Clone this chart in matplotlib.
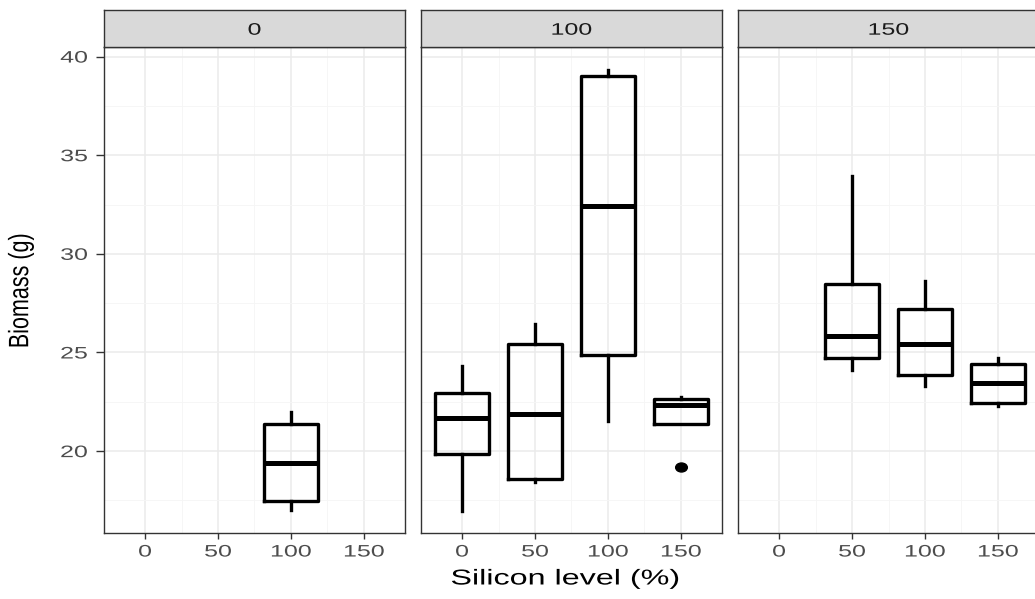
import matplotlib
matplotlib.use("Agg")
import matplotlib.pyplot as plt
from matplotlib.patheffects import AbstractPathEffect
from matplotlib.transforms import Affine2D
from matplotlib.path import Path
import numpy as np

# facet = silicon level of first factor, x = silicon level (%)
facets = ['0', '100', '150']
levels = [0, 50, 100, 150]

# per-facet box statistics (x position, whislo, q1, med, q3, whishi)
f0_x = [100]
f0_lo = [17.03]
f0_q1 = [17.48]
f0_med = [19.41]
f0_q3 = [21.35]
f0_hi = [21.99]

f1_x = [0, 50, 100, 150]
f1_lo = [16.98, 18.41, 21.53, 21.35]
f1_q1 = [19.83, 18.58, 24.85, 21.35]
f1_med = [21.67, 21.87, 32.42, 22.33]
f1_q3 = [22.95, 25.42, 39.00, 22.63]
f1_hi = [24.32, 26.43, 39.34, 22.72]

f2_x = [50, 100, 150]
f2_lo = [24.12, 23.28, 22.29]
f2_q1 = [24.72, 23.85, 22.42]
f2_med = [25.84, 25.42, 23.44]
f2_q3 = [28.46, 27.19, 24.44]
f2_hi = [33.94, 28.62, 24.70]

# outliers: (facet index, x, y)
out_facet = [1]
out_x = [150]
out_y = [19.22]

panels = [
    (f0_x, f0_lo, f0_q1, f0_med, f0_q3, f0_hi),
    (f1_x, f1_lo, f1_q1, f1_med, f1_q3, f1_hi),
    (f2_x, f2_lo, f2_q1, f2_med, f2_q3, f2_hi),
]


class Stretch(AbstractPathEffect):
    """widen text horizontally around an anchor (the reference is stretched)"""
    def __init__(self, sx=1.45, anchor='center'):
        super().__init__()
        self.sx = sx
        self.anchor = anchor

    def draw_path(self, renderer, gc, tpath, affine, rgbFace=None):
        ext = tpath.get_extents(affine)
        cx = ext.x1 if self.anchor == 'right' else (ext.x0 + ext.x1) / 2
        t = affine + Affine2D().translate(-cx, 0).scale(self.sx, 1).translate(cx, 0)
        renderer.draw_path(gc, tpath, t, rgbFace)


FONT = ['Liberation Sans', 'DejaVu Sans']
SX = 1.5

W, H = 1035, 599
fig = plt.figure(figsize=(W / 100, H / 100), dpi=100)

lefts = [104, 421, 738]
pw = 301
top_px, bot_px, strip_top = 46.7, 533, 10

tick_col = '#4D4D4D'
frame_col = '#333333'
grid_col = '#EBEBEB'

ell = Path(Path.unit_circle().vertices * [1.3, 1.0], Path.unit_circle().codes)

axes = []
for i, (xs, lo, q1, med, q3, hi) in enumerate(panels):
    l = lefts[i] / W
    ax = fig.add_axes([l, 1 - bot_px / H, pw / W, (bot_px - top_px) / H])
    axes.append(ax)
    stats = []
    for j in range(len(xs)):
        stats.append(dict(whislo=lo[j], q1=q1[j], med=med[j], q3=q3[j], whishi=hi[j], fliers=[]))
    ax.bxp(stats, positions=xs, widths=37.5, showcaps=False, manage_ticks=False,
           boxprops=dict(color='black', lw=2.4),
           whiskerprops=dict(color='black', lw=2.4),
           medianprops=dict(color='black', lw=3.6, solid_capstyle='butt'))
    for f, x, y in zip(out_facet, out_x, out_y):
        if f == i:
            ax.plot(x, y, marker=ell, ls='none', color='black', ms=8.4, zorder=3)

    ax.set_xlim(-28.1, 178.1)
    ax.set_ylim(15.85, 40.5)
    ax.set_xticks(levels)
    ax.set_xticks([25, 75, 125], minor=True)
    ax.set_yticks([20, 25, 30, 35, 40])
    ax.set_yticks([17.5, 22.5, 27.5, 32.5, 37.5], minor=True)
    ax.grid(True, which='major', color=grid_col, lw=1.1, zorder=0)
    ax.grid(True, which='minor', color='#F5F5F5', lw=0.6, zorder=0)
    ax.set_axisbelow(True)
    for s in ax.spines.values():
        s.set_color(frame_col)
        s.set_linewidth(1.0)
    ax.tick_params(axis='x', which='major', length=4.3, width=1, color=frame_col,
                   labelcolor=tick_col, labelsize=12, pad=4)
    ax.tick_params(axis='y', which='major', length=5.8, width=1, color=frame_col,
                   labelcolor=tick_col, labelsize=12, pad=6)
    ax.tick_params(which='minor', length=0)
    if i > 0:
        ax.tick_params(axis='y', which='both', left=False, labelleft=False)

    # facet strip
    sax = fig.add_axes([l, 1 - top_px / H, pw / W, (top_px - strip_top) / H])
    sax.set_facecolor('#D9D9D9')
    sax.set_xticks([])
    sax.set_yticks([])
    for s in sax.spines.values():
        s.set_color(frame_col)
        s.set_linewidth(1.0)
    sax.text(0.5, 0.45, facets[i], ha='center', va='center', fontsize=12,
             color='#1A1A1A', family=FONT, transform=sax.transAxes,
             path_effects=[Stretch(SX)])

fig.text(21 / W, 1 - 291 / H, 'Biomass (g)', rotation=90, ha='center', va='center',
         fontsize=15.5, family=FONT, path_effects=[Stretch(1.3)])
fig.text(565 / W, 1 - 579 / H, 'Silicon level (%)', ha='center', va='center', fontsize=15.5,
         family=FONT, path_effects=[Stretch(SX)])

fig.canvas.draw()
for ax in axes:
    for lab in ax.get_xticklabels():
        lab.set_family(FONT)
        lab.set_path_effects([Stretch(SX)])
    for lab in ax.get_yticklabels():
        lab.set_family(FONT)
        lab.set_path_effects([Stretch(SX, 'right')])

fig.savefig('out.png', dpi=100)
